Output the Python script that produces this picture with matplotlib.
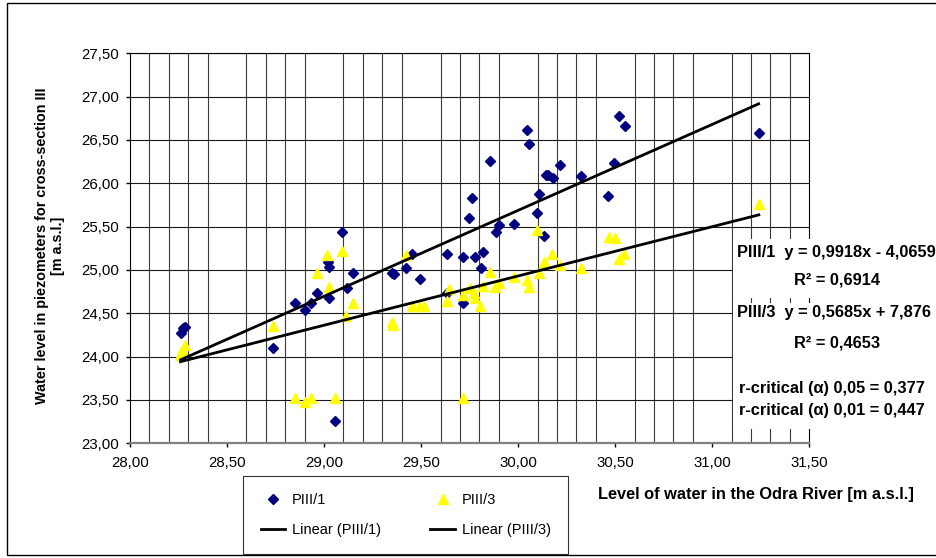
import numpy as np
import matplotlib
matplotlib.use('Agg')
import matplotlib.pyplot as plt
from matplotlib.patches import Rectangle
from matplotlib.ticker import FuncFormatter

plt.rcParams.update({
    "font.family": "sans-serif",
    "font.sans-serif": ["Liberation Sans", "DejaVu Sans"]})

# PIII/1 : river level vs piezometer level
x_p1 = [28.261, 28.275, 28.284, 28.735, 28.851, 28.904, 28.935, 28.962, 29.018, 29.026,
        29.027, 29.057, 29.091, 29.117, 29.148, 29.352, 29.360, 29.423, 29.452, 29.496,
        29.632, 29.632, 29.718, 29.718, 29.747, 29.761, 29.775, 29.806, 29.821, 29.856,
        29.887, 29.899, 29.979, 30.045, 30.057, 30.096, 30.108, 30.131, 30.144, 30.156,
        30.177, 30.218, 30.326, 30.462, 30.495, 30.522, 30.548, 31.239]
y_p1 = [24.27, 24.33, 24.345, 24.10, 24.615, 24.535, 24.615, 24.73, 25.088, 25.031,
        24.673, 23.257, 25.442, 24.788, 24.968, 24.96, 24.95, 25.02, 25.184, 24.90,
        25.184, 24.73, 25.146, 24.615, 25.596, 25.827, 25.146, 25.02, 25.21, 26.26,
        25.435, 25.52, 25.53, 26.615, 26.45, 25.66, 25.877, 25.392, 26.10, 26.096,
        26.065, 26.21, 26.084, 25.857, 26.23, 26.776, 26.661, 26.577]

# PIII/3
x_p3 = [28.260, 28.270, 28.285, 28.735, 28.851, 28.904, 28.935, 28.962, 29.017, 29.027,
        29.057, 29.091, 29.113, 29.148, 29.352, 29.357, 29.423, 29.452, 29.491, 29.515,
        29.632, 29.646, 29.718, 29.718, 29.753, 29.770, 29.775, 29.804, 29.821, 29.856,
        29.881, 29.899, 29.979, 30.044, 30.057, 30.096, 30.108, 30.131, 30.136, 30.173,
        30.216, 30.325, 30.466, 30.497, 30.520, 30.546, 31.240]
y_p3 = [24.02, 24.08, 24.13, 24.353, 23.526, 23.473, 23.526, 24.968, 25.173, 24.80,
        23.526, 25.222, 24.47, 24.62, 24.40, 24.37, 25.17, 24.584, 24.584, 24.584,
        24.645, 24.777, 24.71, 23.52, 24.788, 24.73, 24.68, 24.584, 24.815, 24.98,
        24.807, 24.853, 24.915, 24.884, 24.807, 25.46, 24.968, 25.095, 25.077, 25.19,
        25.057, 25.02, 25.377, 25.365, 25.13, 25.184, 25.76]

# regression coefficients printed on the chart
slope_p1, icpt_p1 = 0.9918, -4.0659
slope_p3, icpt_p3 = 0.5685, 7.876

eq_texts = ["PIII/1  y = 0,9918x - 4,0659", "R\u00b2 = 0,6914",
            "PIII/3  y = 0,5685x + 7,876", "R\u00b2 = 0,4653",
            "r-critical (\u03b1) 0,05 = 0,377", "r-critical (\u03b1) 0,01 = 0,447"]

W, H = 936, 558
fig = plt.figure(figsize=(W / 100, H / 100), dpi=100)
ax = fig.add_axes([130 / W, (H - 443.3) / H, (809.3 - 130) / W, (443.3 - 53.3) / H])

ax.set_xlim(28, 31.5)
ax.set_ylim(23, 27.5)
ax.set_xticks(np.arange(28, 31.51, 0.5))
ax.set_xticks(np.arange(28, 31.51, 0.1), minor=True)
ax.set_yticks(np.arange(23, 27.51, 0.5))
fmt = FuncFormatter(lambda v, p: f"{v:.2f}".replace('.', ','))
ax.xaxis.set_major_formatter(fmt)
ax.yaxis.set_major_formatter(fmt)
ax.tick_params(axis='both', labelsize=10.8, direction='out', length=3, width=1)
ax.tick_params(axis='x', pad=6)
ax.tick_params(axis='y', pad=5)
ax.tick_params(axis='x', which='minor', length=0)

ax.set_axisbelow(True)
ax.grid(True, axis='y', which='major', color='#1a1a1a', lw=0.8)
ax.grid(True, axis='x', which='minor', color='#3a3a3a', lw=0.8)
ax.spines['bottom'].set_color('#808080')
ax.spines['bottom'].set_linewidth(1.6)
for s in ['left', 'top', 'right']:
    ax.spines[s].set_color('black')
    ax.spines[s].set_linewidth(0.8)

h1, = ax.plot(x_p1, y_p1, ls='none', marker='D', ms=5, color='#000080', zorder=3, label='PIII/1')
h3, = ax.plot(x_p3, y_p3, ls='none', marker='^', ms=7.5, color='#ffff00', zorder=3, label='PIII/3')

xr1 = np.array([min(x_p1), max(x_p1)])
xr3 = np.array([min(x_p3), max(x_p3)])
l1, = ax.plot(xr1, slope_p1 * xr1 + icpt_p1, color='black', lw=2, zorder=4, label='Linear (PIII/1)')
l3, = ax.plot(xr3, slope_p3 * xr3 + icpt_p3, color='black', lw=2, zorder=4, label='Linear (PIII/3)')

fig.text(50 / W, 1 - 246 / H, 'Water level in piezometers for cross-section III\n[m a.s.l.]',
         fontsize=10.4, fontweight='bold', rotation=90, ha='center', va='center',
         multialignment='center', linespacing=1.15)

fig.text(598 / W, 1 - 494 / H, 'Level of water in the Odra River [m a.s.l.]',
         fontsize=11.8, fontweight='bold', ha='left', va='center')

# white boxes behind the equations (they hide the grid)
for y0, y1 in [(239, 298), (303, 429)]:
    fig.add_artist(Rectangle((733 / W, 1 - y1 / H), 0.5, (y1 - y0) / H,
                             transform=fig.transFigure, facecolor='white',
                             edgecolor='none', zorder=5))

pos = [(737, 252, 'left'), (837, 280, 'center'), (737, 312, 'left'),
       (837, 343, 'center'), (739, 388, 'left'), (739, 411, 'left')]
for (px, py, ha), t in zip(pos, eq_texts):
    fig.text(px / W, 1 - py / H, t, fontsize=11.8, fontweight='bold',
             ha=ha, va='center', zorder=6)

leg = fig.legend([h1, l1, h3, l3], ['PIII/1', 'Linear (PIII/1)', 'PIII/3', 'Linear (PIII/3)'],
                 ncol=2, loc='upper left', bbox_to_anchor=(243 / W, 1 - 476 / H),
                 borderaxespad=0, fontsize=10.5, frameon=True, fancybox=False,
                 edgecolor='black', handlelength=1.7, columnspacing=3.4,
                 labelspacing=1.05, borderpad=1.2, handletextpad=0.45)
leg.get_frame().set_linewidth(0.8)

# outer chart border
fig.add_artist(Rectangle((7 / W, 3 / H), 1.0, (555 - 3) / H, transform=fig.transFigure,
                         fill=False, edgecolor='black', lw=1, zorder=7))

fig.savefig('out.png', dpi=100)
